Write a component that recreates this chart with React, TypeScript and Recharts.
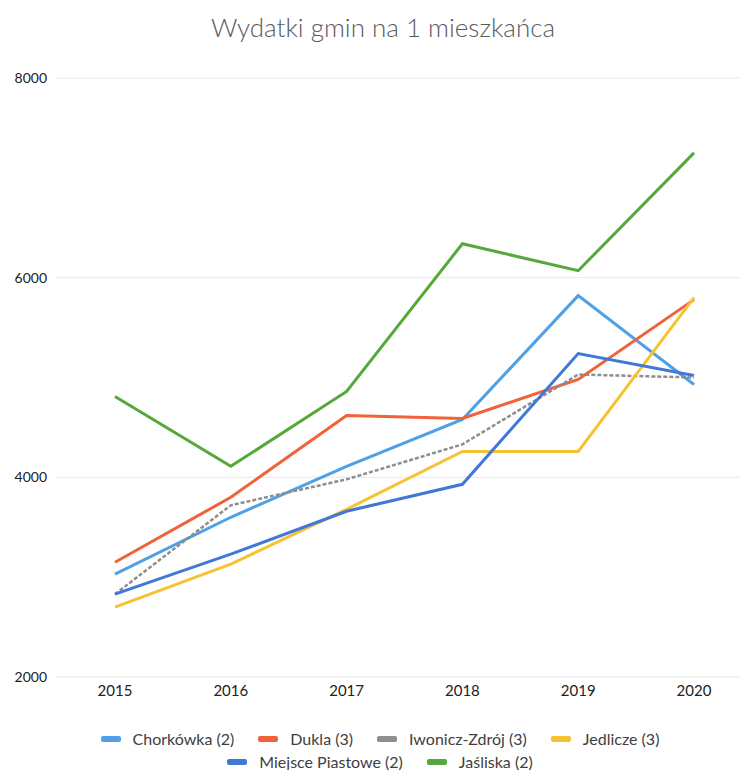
import React from 'react';
import { LineChart, Line, XAxis, YAxis, CartesianGrid, Legend } from 'recharts';

const years = ['2015', '2016', '2017', '2018', '2019', '2020'];
const chorkowka = [3030, 3600, 4110, 4580, 5820, 4930];
const dukla = [3150, 3800, 4620, 4590, 4980, 5780];
const iwonicz = [2830, 3720, 3980, 4330, 5030, 5000];
const jedlicze = [2700, 3130, 3680, 4260, 4260, 5800];
const miejsce = [2830, 3230, 3660, 3930, 5240, 5020];
const jasliska = [4810, 4110, 4860, 6340, 6070, 7250];
const yTicks = [2000, 4000, 6000, 8000];

const series = [
  { key: 'chorkowka', name: 'Chorkówka (2)', color: '#4FA0E4', width: 3, dash: undefined },
  { key: 'dukla', name: 'Dukla (3)', color: '#F0623A', width: 3, dash: undefined },
  { key: 'iwonicz', name: 'Iwonicz-Zdrój (3)', color: '#8E8E8E', width: 2.5, dash: '4 2' },
  { key: 'jedlicze', name: 'Jedlicze (3)', color: '#F7C232', width: 3, dash: undefined },
  { key: 'miejsce', name: 'Miejsce Piastowe (2)', color: '#3F78D6', width: 3, dash: undefined },
  { key: 'jasliska', name: 'Jaśliska (2)', color: '#55A93A', width: 3, dash: undefined },
];

const data = years.map((year, i) => ({
  year,
  chorkowka: chorkowka[i],
  dukla: dukla[i],
  iwonicz: iwonicz[i],
  jedlicze: jedlicze[i],
  miejsce: miejsce[i],
  jasliska: jasliska[i],
}));

const FONT = 'Lato, "Open Sans", sans-serif';

const CustomLegend = () => (
  <div
    style={{
      display: 'flex',
      flexWrap: 'wrap',
      justifyContent: 'center',
      columnGap: 24,
      rowGap: 4,
      width: 600,
      margin: '0 auto',
      paddingLeft: 20,
      fontFamily: FONT,
      fontSize: 16,
      lineHeight: '19px',
      color: '#404040',
    }}
  >
    {series.map(s => (
      <div key={s.key} style={{ display: 'flex', alignItems: 'center' }}>
        <span
          style={{
            display: 'inline-block',
            width: 20,
            height: 6,
            borderRadius: 2,
            background: s.color,
            marginRight: 12,
          }}
        />
        <span>{s.name}</span>
      </div>
    ))}
  </div>
);

const App: React.FC = () => {
  return (
    <div style={{ position: 'absolute', left: 0, top: 0, width: 742, height: 770, background: '#fff' }}>
      <div
        style={{
          position: 'absolute',
          top: 11,
          left: 0,
          width: 766,
          textAlign: 'center',
          fontFamily: FONT,
          fontSize: 26,
          fontWeight: 300,
          color: '#595959',
        }}
      >
        Wydatki gmin na 1 mieszkańca
      </div>
      <LineChart width={742} height={770} data={data} margin={{ top: 78, right: 2, left: 0, bottom: 21 }}>
        <CartesianGrid vertical={false} stroke="#E8E8E8" />
        <XAxis
          dataKey="year"
          axisLine={false}
          tickLine={false}
          height={30}
          padding={{ left: 60, right: 46 }}
          tick={{ fontSize: 15, fill: '#222', fontFamily: FONT }}
        />
        <YAxis
          domain={[2000, 8000]}
          ticks={yTicks}
          axisLine={false}
          tickLine={false}
          width={55}
          tick={{ fontSize: 14, fill: '#222', fontFamily: FONT }}
        />
        <Legend
          verticalAlign="bottom"
          content={<CustomLegend />}
          wrapperStyle={{ top: 729, bottom: 'auto' }}
        />
        {series.map(s => (
          <Line
            key={s.key}
            type="linear"
            dataKey={s.key}
            name={s.name}
            stroke={s.color}
            strokeWidth={s.width}
            strokeDasharray={s.dash}
            dot={false}
            isAnimationActive={false}
          />
        ))}
      </LineChart>
    </div>
  );
};

export default App;
